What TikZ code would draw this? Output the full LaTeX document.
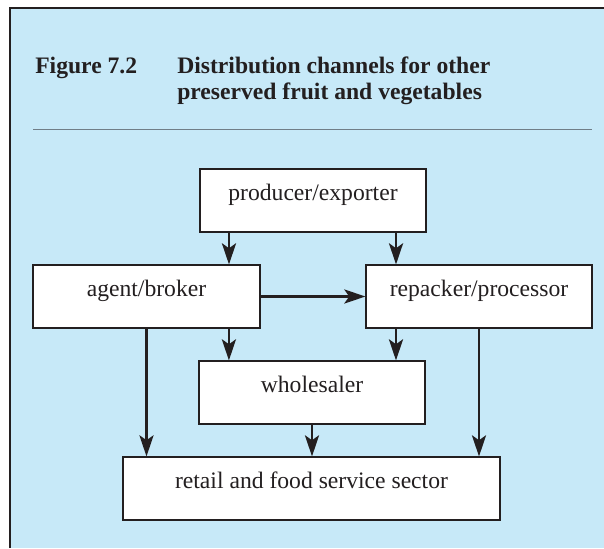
\documentclass[tikz,border=0pt]{standalone}
\usepackage{fontspec}
\setmainfont{Liberation Serif}
\usetikzlibrary{arrows.meta}
\definecolor{panelblue}{RGB}{199,233,248}
\definecolor{rulegray}{RGB}{112,126,136}
\definecolor{inkgray}{RGB}{35,31,32}
\begin{document}
\begin{tikzpicture}[x=0.025cm,y=-0.025cm,
        box/.style={draw=inkgray,fill=white,line width=0.8pt,inner sep=0pt,minimum height=1.575cm,
            text height=0.5cm,text depth=0.5cm,text=inkgray,font=\fontsize{16.8}{20}\selectfont},
        title/.style={anchor=base west,inner sep=0pt,text=inkgray,font=\fontsize{16.8}{20}\selectfont\bfseries},
        flow/.style={-{Stealth[length=15pt,width=10pt,inset=3.5pt]},line width=2pt,draw=inkgray}]
            \useasboundingbox (0,0) rectangle (604,548);
            \fill[panelblue] (10,8) rectangle (604,548);
            \draw[inkgray,line width=0.9pt] (10,548) -- (10,8) -- (604,8);

            \node[title] (fig) at (35,73) {Figure 7.2};
            \node[title] (cap1) at (177,73) {Distribution channels for other};
            \node[title] (cap2) at (177,99) {preserved fruit and vegetables};
            \draw[rulegray,line width=1.4pt] (33,129.5) -- (592,129.5);

            \node[box,minimum width=5.65cm] (prod) at (313,200.5) {producer/exporter};
            \node[box,minimum width=5.675cm] (agent) at (146.5,296.5) {agent/broker};
            \node[box,minimum width=5.65cm] (repack) at (479,296.5) {repacker/processor};
            \node[box,minimum width=5.65cm] (whole) at (312,392.5) {wholesaler};
            \node[box,minimum width=9.425cm] (retail) at (311.5,488.5) {retail and food service sector};

            \draw[flow] ([xshift=-2.1cm]prod.south) -- ([xshift=-2.1cm]prod.south |- agent.north);
            \draw[flow] ([xshift=2.075cm]prod.south) -- ([xshift=2.075cm]prod.south |- repack.north);
            \draw[flow] (agent.east) -- (repack.west);
            \draw[flow] ([xshift=2.06cm]agent.south) -- ([xshift=2.06cm]agent.south |- whole.north);
            \draw[flow] ([xshift=-2.075cm]repack.south) -- ([xshift=-2.075cm]repack.south |- whole.north);
            \draw[flow] (agent.south) -- (agent.south |- retail.north);
            \draw[flow] (whole.south) -- (whole.south |- retail.north);
            \draw[flow] (repack.south) -- (repack.south |- retail.north);

        \end{tikzpicture}
\end{document}
